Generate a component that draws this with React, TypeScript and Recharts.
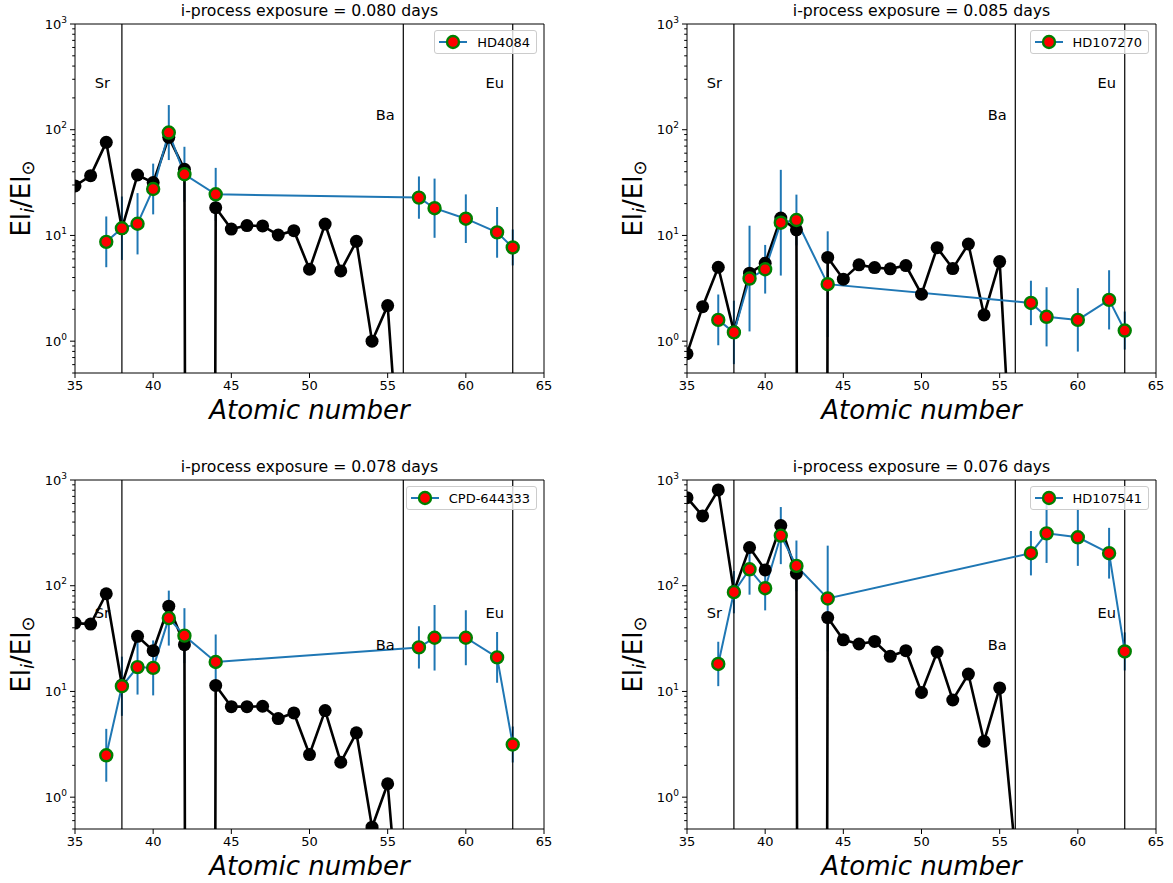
import React from 'react';
import {
  ComposedChart,
  Line,
  XAxis,
  YAxis,
  ReferenceLine,
  ReferenceArea,
  ReferenceDot,
  ErrorBar
} from 'recharts';

// atomic numbers of the model abundances
const modelZ = [35, 36, 37, 38, 39, 40, 41, 42, 43, 44, 45, 46, 47, 48, 49, 50, 51, 52, 53, 54, 55, 56];
// atomic numbers of the observed elements
const obsZ = [37, 38, 39, 40, 41, 42, 44, 57, 58, 60, 62, 63];

// Tc (Z=43) has no stable isotope, model value is ~0 (drawn as a vertical drop)
const TC = 1e-60;

// model El_i/El_sun for each exposure
const model080 = [29.4, 36.8, 76, 11.6, 37.3, 31.6, 84.7, 42.3, TC, 18.3, 11.5, 12.4, 12.3, 10.1, 11.1, 4.79, 12.8, 4.62, 8.8, 1.0, 2.17, 0.019];
const model085 = [0.76, 2.12, 5.0, 1.23, 4.4, 5.46, 14.6, 11.3, TC, 6.2, 3.86, 5.27, 4.97, 4.83, 5.19, 2.78, 7.67, 4.86, 8.3, 1.77, 5.66, 0.013];
const model078 = [44.3, 43.4, 84, 11.5, 33.2, 24.3, 64, 27.7, TC, 11.4, 7.18, 7.18, 7.24, 5.54, 6.26, 2.53, 6.59, 2.14, 4.06, 0.52, 1.34, 0.025];
const model076 = [681, 457, 805, 88, 230, 141, 371, 131, TC, 50, 30.8, 28.1, 29.7, 21.5, 24.3, 9.8, 23.6, 8.3, 14.6, 3.38, 10.8, 0.3];

// observed abundances and their errors (dex)
const hd4084 = [8.7, 11.7, 12.9, 27.5, 94, 37.9, 24.5, 22.8, 18.1, 14.4, 10.7, 7.7];
const hd4084Err = [0.24, 0.3, 0.29, 0.24, 0.26, 0.26, 0.25, 0.2, 0.28, 0.23, 0.24, 0.17];
const hd107270 = [1.59, 1.21, 3.91, 4.79, 13.2, 14.0, 3.46, 2.3, 1.7, 1.59, 2.46, 1.26];
const hd107270Err = [0.24, 0.3, 0.5, 0.23, 0.5, 0.24, 0.5, 0.21, 0.28, 0.3, 0.28, 0.18];
const cpd644333 = [2.49, 11.2, 17.0, 16.7, 49.4, 33.7, 19.0, 26.1, 32.2, 32.2, 21.0, 3.15];
const cpd644333Err = [0.25, 0.28, 0.26, 0.26, 0.26, 0.26, 0.26, 0.2, 0.31, 0.26, 0.24, 0.17];
const hd107541 = [18.2, 86.9, 143, 94.8, 298, 154, 75.7, 203, 313, 287, 203, 23.9];
const hd107541Err = [0.21, 0.2, 0.24, 0.21, 0.27, 0.24, 0.5, 0.21, 0.28, 0.27, 0.24, 0.18];

// element markers
const tagNames = ['Sr', 'Ba', 'Eu'];
const tagZ = [36.75, 54.85, 61.85];
const tagYTop = [280, 140, 280];
const tagYBottom = [56, 27.7, 56];
const dividerZ = [38, 56, 63];

const xTicks = [35, 40, 45, 50, 55, 60, 65];
const yTicks = [
  0.5, 0.6, 0.7, 0.8, 0.9, 1, 2, 3, 4, 5, 6, 7, 8, 9, 10,
  20, 30, 40, 50, 60, 70, 80, 90, 100, 200, 300, 400, 500, 600, 700, 800, 900, 1000
];

const BLUE = '#1f77b4';
const FONT = '"DejaVu Sans", sans-serif';

const panels = [
  { exposure: '0.080', star: 'HD4084', model: model080, obs: hd4084, err: hd4084Err, tagY: tagYTop, left: 0, top: 0 },
  { exposure: '0.085', star: 'HD107270', model: model085, obs: hd107270, err: hd107270Err, tagY: tagYTop, left: 612, top: 0 },
  { exposure: '0.078', star: 'CPD-644333', model: model078, obs: cpd644333, err: cpd644333Err, tagY: tagYBottom, left: 0, top: 456 },
  { exposure: '0.076', star: 'HD107541', model: model076, obs: hd107541, err: hd107541Err, tagY: tagYBottom, left: 612, top: 456 }
];

const W = 561;
const H = 441;

const LogTick = (props: any) => {
  const { x, y, payload } = props;
  const lg = Math.log10(payload.value);
  const exp = Math.round(lg);
  const major = Math.abs(lg - exp) < 1e-6;
  return (
    <g>
      <line x1={x} x2={x - (major ? 5 : 2.8)} y1={y} y2={y} stroke="#000" strokeWidth={1} />
      {major && (
        <text x={x - 8} y={y} dy="0.36em" textAnchor="end" fontSize={13} fill="#000" fontFamily={FONT}>
          10<tspan dy={-6} fontSize={9}>{exp}</tspan>
        </text>
      )}
    </g>
  );
};

const Panel = ({ p }: { p: typeof panels[number] }) => {
  const modelData = modelZ.map((z, i) => ({ z, y: p.model[i] }));
  const obsData = obsZ.map((z, i) => {
    const v = p.obs[i];
    const e = p.err[i];
    return { z, y: v, e: [v - v * Math.pow(10, -e), v * Math.pow(10, e) - v] };
  });

  return (
    <div style={{ position: 'absolute', left: p.left, top: p.top, width: W, height: H }}>
      <ComposedChart width={W} height={H} margin={{ top: 24, right: 17, bottom: 38, left: 25 }}>
        <XAxis
          dataKey="z"
          type="number"
          domain={[35, 65]}
          ticks={xTicks}
          allowDataOverflow
          axisLine={false}
          tickLine={{ stroke: '#000', strokeWidth: 1 }}
          tickSize={5}
          tickMargin={3}
          height={30}
          tick={{ fontSize: 13, fill: '#000', fontFamily: FONT }}
          label={{
            content: () => (
              <text x={309.5} y={419} textAnchor="middle" fontSize={26} fontStyle="italic" fill="#000" fontFamily={FONT}>
                Atomic number
              </text>
            )
          }}
        />
        <YAxis
          type="number"
          scale="log"
          domain={[0.5, 1000]}
          allowDataOverflow
          ticks={yTicks}
          interval={0}
          axisLine={false}
          tickLine={false}
          tickSize={0}
          tickMargin={0}
          width={50}
          tick={<LogTick />}
          label={{
            content: () => (
              <text transform="translate(30,198.5) rotate(-90)" textAnchor="middle" fontSize={26} fill="#000" fontFamily={FONT}>
                El<tspan fontSize={18} dy={4} fontStyle="italic">i</tspan>
                <tspan dy={-4}>/El</tspan>
                <tspan fontSize={18} dy={4}>⊙</tspan>
              </text>
            )
          }}
        />

        {/* error bars below the model curve */}
        <Line data={obsData} dataKey="y" stroke="none" dot={false} activeDot={false} isAnimationActive={false}>
          <ErrorBar dataKey="e" direction="y" width={0} stroke={BLUE} strokeWidth={2} />
        </Line>

        <Line
          data={modelData}
          dataKey="y"
          stroke="#000"
          strokeWidth={2.6}
          dot={{ r: 6.5, fill: '#000', stroke: '#000', strokeWidth: 0 }}
          activeDot={false}
          isAnimationActive={false}
        />

        {dividerZ.map((z) => (
          <ReferenceLine key={z} x={z} stroke="#000" strokeWidth={1.2} />
        ))}

        <Line
          data={obsData}
          dataKey="y"
          stroke={BLUE}
          strokeWidth={2}
          dot={{ r: 6, fill: '#ff0000', stroke: '#008000', strokeWidth: 2.4 }}
          activeDot={false}
          isAnimationActive={false}
        />

        {tagNames.map((name, i) => (
          <ReferenceDot
            key={name}
            x={tagZ[i]}
            y={p.tagY[i]}
            r={0}
            ifOverflow="visible"
            shape={(s: any) => (
              <text x={s.cx} y={s.cy} dy="0.36em" textAnchor="middle" fontSize={14.6} fill="#000" fontFamily={FONT}>
                {name}
              </text>
            )}
          />
        ))}

        <ReferenceArea x1={35} x2={65} y1={0.5} y2={1000} fill="none" stroke="#000" strokeWidth={1} />
      </ComposedChart>

      <div
        style={{
          position: 'absolute',
          left: 75,
          width: 469,
          top: 3,
          textAlign: 'center',
          fontSize: 15.7,
          lineHeight: '16px',
          fontFamily: FONT,
          color: '#000',
          whiteSpace: 'nowrap'
        }}
      >
        i-process exposure = {p.exposure} days
      </div>

      <div
        style={{
          position: 'absolute',
          top: 30,
          right: 24,
          height: 24,
          boxSizing: 'border-box',
          display: 'flex',
          alignItems: 'center',
          padding: '0 6px 0 4px',
          background: 'rgba(255,255,255,0.8)',
          border: '1px solid #cccccc',
          borderRadius: 3,
          fontFamily: FONT,
          fontSize: 13,
          color: '#000'
        }}
      >
        <svg width={28} height={18} style={{ marginRight: 10 }}>
          <line x1={0} x2={28} y1={9} y2={9} stroke={BLUE} strokeWidth={2} />
          <circle cx={14} cy={9} r={6} fill="#ff0000" stroke="#008000" strokeWidth={2.4} />
        </svg>
        <span>{p.star}</span>
      </div>
    </div>
  );
};

export default function App() {
  return (
    <div
      style={{
        position: 'absolute',
        left: 0,
        top: 0,
        width: 1173,
        height: 883,
        overflow: 'hidden',
        background: '#fff',
        fontFamily: FONT
      }}
    >
      {panels.map((p) => (
        <Panel key={p.star} p={p} />
      ))}
    </div>
  );
}
